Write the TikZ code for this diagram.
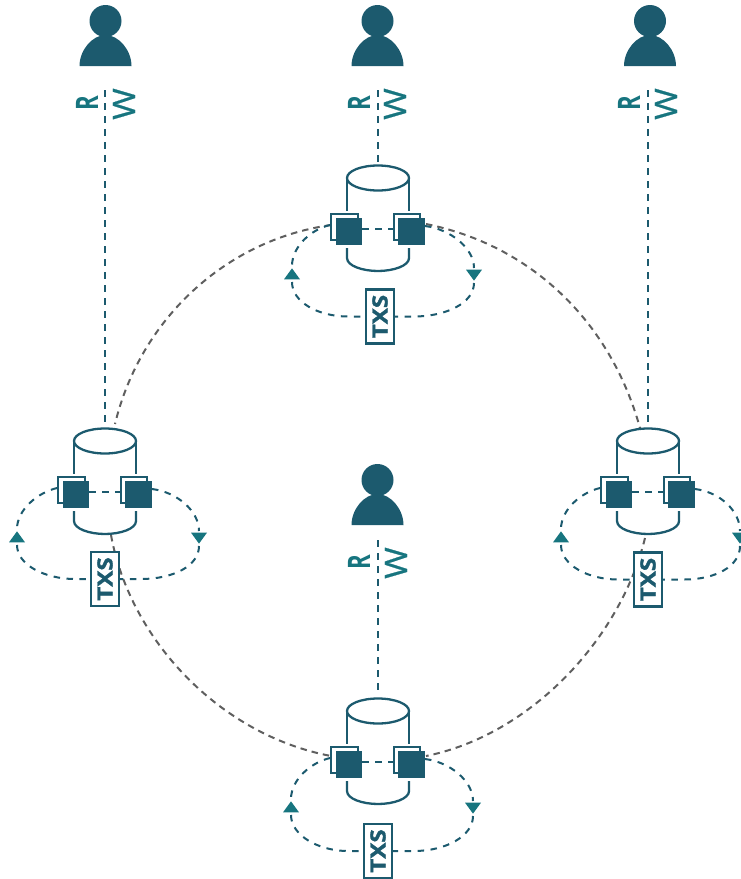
\documentclass[tikz,border=0pt]{standalone}
\usepackage{fontspec}
\setmainfont{Open Sans}
\newfontfamily\heavyfont[BoldFeatures={FakeBold=1.5}]{Open Sans}
\newfontfamily\medfont[FakeBold=0.7]{Open Sans}
\usetikzlibrary{shapes.geometric}
\definecolor{navy}{HTML}{1C5A6E}
\definecolor{teal2}{HTML}{17757F}
\definecolor{ringgray}{HTML}{5F5F5F}
\tikzset{
  wire/.style={navy,line width=2pt,dash pattern=on 6.5pt off 6.5pt},
  ringline/.style={ringgray,line width=2pt,dash pattern=on 6.5pt off 5pt},
  cyl/.style={navy,line width=2.3pt},
  backsq/.style={draw=navy,fill=white,line width=2.2pt,minimum size=26.5pt,inner sep=0pt},
  frontsq/.style={fill=navy,minimum size=26.5pt,inner sep=0pt},
  txsbox/.style={draw=navy,fill=white,line width=2.4pt,minimum width=28pt,minimum height=54pt,inner sep=0pt},
  txslabel/.style={navy,font=\fontsize{21}{21}\heavyfont\bfseries,rotate=90,inner sep=0pt,xscale=1.15},
  uptri/.style={fill=teal2,isosceles triangle,isosceles triangle apex angle=74,isosceles triangle stretches,shape border rotate=90,minimum height=11pt,minimum width=16pt,inner sep=0pt,anchor=apex},
  downtri/.style={uptri,shape border rotate=270},
  rwr/.style={teal2,font=\fontsize{31}{31}\selectfont\bfseries,rotate=90,inner sep=0pt,xscale=.72},
  rww/.style={teal2,font=\fontsize{31}{31}\medfont,rotate=90,inner sep=0pt,xscale=1.1},
  headdot/.style={circle,fill=navy,minimum size=32pt,inner sep=0pt}
}
% #1 id, #2 cx, #3 cy, #4 txs dx, #5 left tri dx, #6 right tri dx, #7 txs dy
\newcommand{\dbcluster}[7]{%
\begin{scope}[shift={(#2,#3)}]
  \coordinate (#1top) at (0,-12);
  \draw[cyl,fill=white] (0,0) ellipse [x radius=31,y radius=12.5];
  \draw[cyl] (-31,0) -- (-31,33) (31,0) -- (31,33);
  \draw[cyl] (-31,70) -- (-31,80) .. controls (-31,88) and (-15,93) .. (0,93) .. controls (15,93) and (31,88) .. (31,80) -- (31,70);
  \node[backsq] (#1bl) at (-33.5,49) {};
  \node[backsq] (#1br) at (29,49) {};
  \node[frontsq] (#1fl) at (-29,53.5) {};
  \node[frontsq] (#1fr) at (33.5,53.5) {};
  \draw[wire] (#1fl.east |- 0,51) -- (#1br.west |- 0,51);
  \node[txsbox] (#1txs) at (#4,#7) {};
  \node[txslabel] at (#4,#7) {TXS};
  \node[uptri] (#1ua) at (#5,90) {};
  \node[downtri] (#1da) at (#6,103) {};
  \draw[wire] (#1bl.west |- 0,47) .. controls (-66,51) and (#5,68) .. (#5,88);
  \draw[wire] (#5,104) .. controls (#5,124) and (-60,#7) .. (-30,#7) -- (#1txs.west);
  \draw[wire] (#1fr.east |- 0,48) .. controls (72,51) and (#6,70) .. (#6,90);
  \draw[wire] (#6,105) .. controls (#6,125) and (68,#7) .. (36,#7) -- (#1txs.east);
\end{scope}}
% #1 id, #2 x, #3 y offset of head centre, #4 R x, #5 W x
\newcommand{\userfig}[5]{%
  \node[headdot] (#1head) at (#2,#3) {};
  \fill[navy] (#2-26,#3+45) .. controls (#2-26,#3+29) and (#2-13,#3+14) .. (#2,#3+14) .. controls (#2+13,#3+14) and (#2+26,#3+29) .. (#2+26,#3+45) -- cycle;
  \node[rwr] (#1r) at (#4,#3+82) {R};
  \node[rww] (#1w) at (#5,#3+83) {W};
  \coordinate (#1line) at (#2,#3+69);
}
\begin{document}
\begin{tikzpicture}[x=1pt,y=-1pt]
\useasboundingbox (0,0) rectangle (740,879);
% coordinates for the ring ends
\coordinate (ringA) at (115,424);
\coordinate (ringB) at (640,428);
\coordinate (ringC) at (111,535);
\coordinate (ringD) at (645,538);
\coordinate (lineL) at (105,427);
\coordinate (lineT) at (378,163);
\coordinate (lineR) at (648,427);
\coordinate (lineB) at (378,695);
\coordinate (startL) at (105,90);
\coordinate (startT) at (378,90);
\coordinate (startR) at (648,90);
\coordinate (startB) at (378,540);
\coordinate (ringTL) at (331,225);
\coordinate (ringTR) at (426,224);
\coordinate (ringBL) at (331,756);
\coordinate (ringBR) at (426,756);
% ring
\draw[ringline] (ringTL) .. controls (225,240) and (140,320) .. (ringA);
\draw[ringline] (ringTR) .. controls (530,245) and (610,320) .. (ringB);
\draw[ringline] (ringC) .. controls (130,640) and (220,735) .. (ringBL);
\draw[ringline] (ringD) .. controls (620,640) and (530,735) .. (ringBR);
% vertical
\draw[wire] (startL) -- (lineL);
\draw[wire] (startT) -- (lineT);
\draw[wire] (startR) -- (lineR);
\draw[wire] (startB) -- (lineB);
% clusters
\dbcluster{t}{378}{178}{2}{-86}{96}{138.5}
\dbcluster{l}{105}{441}{0}{-88}{94}{138}
\dbcluster{r}{648}{441}{0}{-87}{92}{138.5}
\dbcluster{b}{378}{711}{0}{-87}{95}{140}
% users
\userfig{ul}{105.5}{21}{87}{124}
\userfig{ut}{377.5}{21}{359}{395}
\userfig{ur}{650}{21}{629}{666}
\userfig{uc}{377.5}{480}{359}{396}
\end{tikzpicture}
\end{document}
